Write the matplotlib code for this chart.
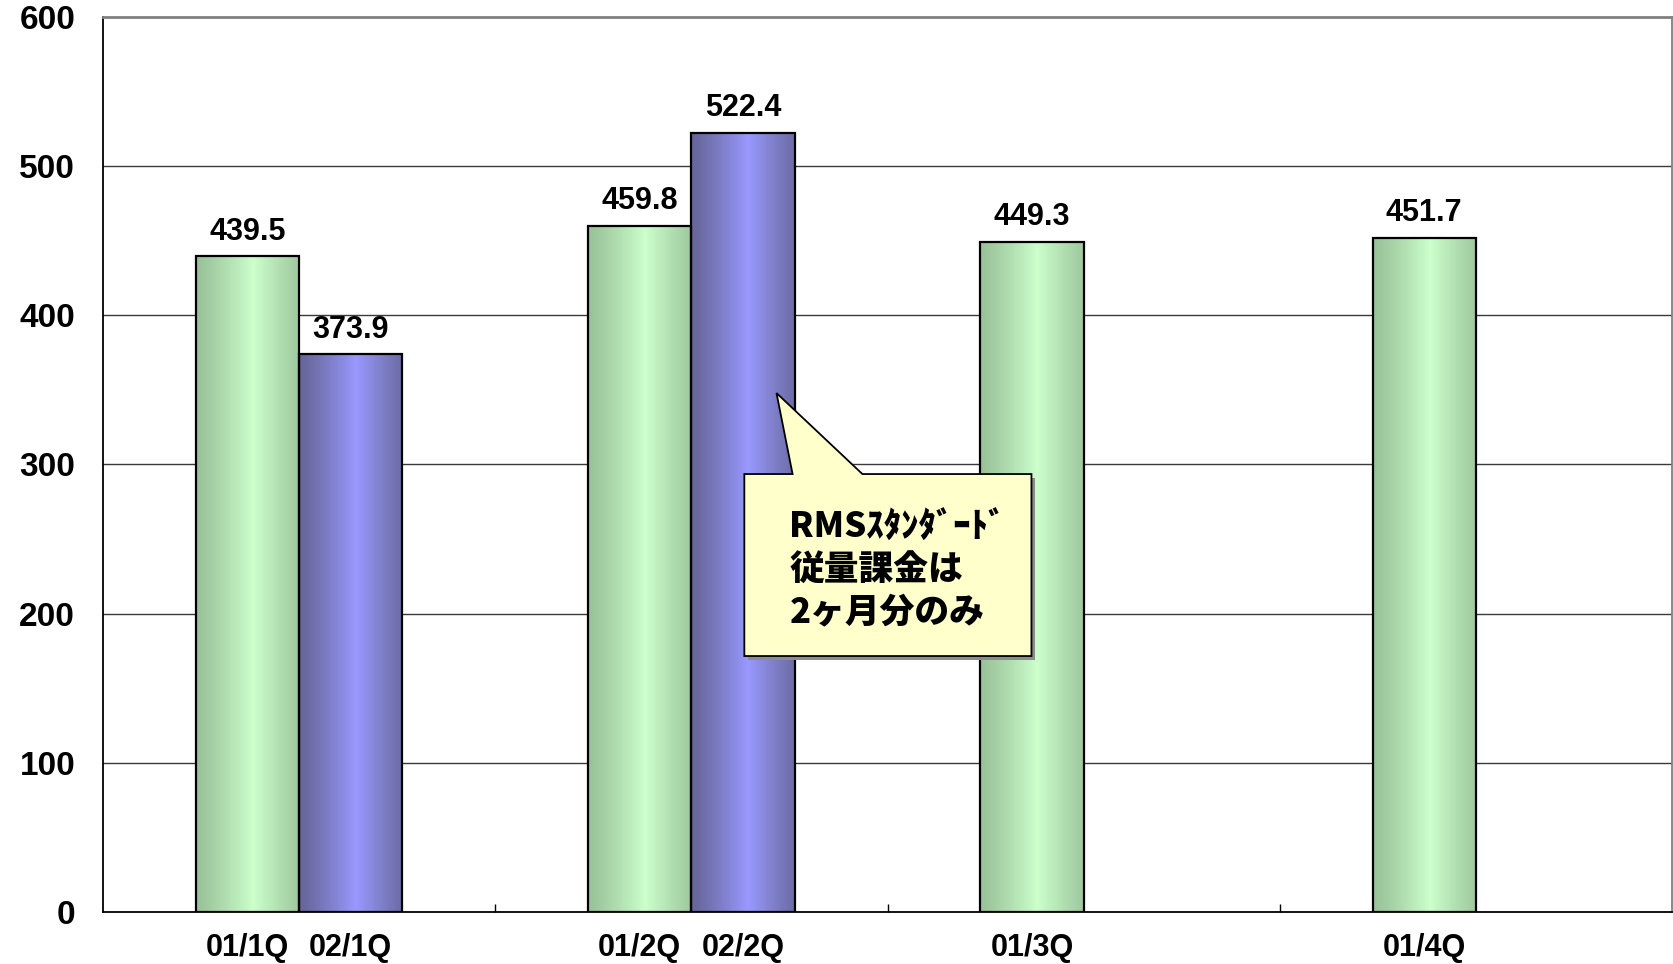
import matplotlib.pyplot as plt
import matplotlib.transforms as mtransforms
from matplotlib.patches import Polygon, Rectangle
import numpy as np

plt.rcParams['font.family'] = ['Liberation Sans', 'Noto Sans CJK JP', 'DejaVu Sans']

quarters = ["1Q", "2Q", "3Q", "4Q"]
labels_01 = ["01/1Q", "01/2Q", "01/3Q", "01/4Q"]
labels_02 = ["02/1Q", "02/2Q", "", ""]
values_01 = [439.5, 459.8, 449.3, 451.7]
values_02 = [373.9, 522.4, None, None]

note_text = "RMSｽﾀﾝﾀﾞｰﾄﾞ\n従量課金は\n2ヶ月分のみ"


def gradient_bar(ax, bar, edge_col, mid_col):
    # horizontal shading: darker at the sides, light just right of centre
    x0, y0 = bar.get_x(), bar.get_y()
    w, h = bar.get_width(), bar.get_height()
    t = np.linspace(0, 1, 256)
    k = np.clip(1 - np.abs(t - 0.55) / 0.55, 0, 1) ** 1.2
    e = np.array(edge_col)
    m = np.array(mid_col)
    rgb = e[None, :] * (1 - k[:, None]) + m[None, :] * k[:, None]
    img = rgb[None, :, :]
    im = ax.imshow(img, extent=(x0, x0 + w, y0, y0 + h), aspect='auto',
                   origin='lower', zorder=2, interpolation='bilinear')
    im.set_clip_path(bar)
    ax.add_patch(Rectangle((x0, y0), w, h, fill=False, edgecolor='black',
                           linewidth=1.6, zorder=3))


def value_label(ax, bar, v):
    ax.annotate(f"{v:.1f}", (bar.get_x() + bar.get_width() / 2, v),
                xytext=(0, 7), textcoords='offset points', ha='center',
                va='bottom', fontsize=22, fontweight='bold', zorder=5)


fig = plt.figure(figsize=(16.73, 9.64), dpi=100)
ax = fig.add_axes([103 / 1673, 52 / 964, 1569 / 1673, 895 / 964])

x = np.arange(len(quarters))
width = 0.263

green_edge = (0.60, 0.76, 0.60)
green_mid = (0.80, 1.00, 0.80)
blue_edge = (0.40, 0.40, 0.60)
blue_mid = (0.60, 0.60, 1.00)

bars_01 = ax.bar(x - width / 2, values_01, width, color='none', zorder=2)
for b, v in zip(bars_01, values_01):
    gradient_bar(ax, b, green_edge, green_mid)
    value_label(ax, b, v)

x2 = [xi + width / 2 for xi, v in zip(x, values_02) if v is not None]
v2 = [v for v in values_02 if v is not None]
bars_02 = ax.bar(x2, v2, width, color='none', zorder=2)
for b, v in zip(bars_02, v2):
    gradient_bar(ax, b, blue_edge, blue_mid)
    value_label(ax, b, v)

ax.set_xlim(-0.5, len(quarters) - 0.5)
ax.set_ylim(0, 600)
ax.set_yticks(np.arange(0, 601, 100))
ax.set_yticklabels([str(v) for v in range(0, 601, 100)], fontweight='bold')
ax.tick_params(axis='y', length=0, pad=20, labelsize=24)

# category labels under each bar, group separators as minor ticks
tick_pos = list(x - width / 2) + x2
tick_lab = labels_01 + [l for l in labels_02 if l]
ax.set_xticks(tick_pos)
ax.set_xticklabels(tick_lab, fontsize=22, fontweight='bold')
ax.tick_params(axis='x', which='major', length=0, pad=15)
ax.set_xticks(np.arange(0.5, len(quarters) - 0.5, 1), minor=True)
ax.tick_params(axis='x', which='minor', direction='in', length=6,
               width=1, color='black')

for yv in range(100, 600, 100):
    ax.axhline(yv, color='#3a3a3a', linewidth=1, zorder=1)

ax.spines['left'].set_color('black')
ax.spines['left'].set_linewidth(1.3)
ax.spines['bottom'].set_color('black')
ax.spines['bottom'].set_linewidth(1.3)
ax.spines['bottom'].set_zorder(4)
ax.spines['top'].set_color('#808080')
ax.spines['top'].set_linewidth(2)
ax.spines['right'].set_color('#808080')
ax.spines['right'].set_linewidth(1.3)

# callout box with pointer to the 02/2Q bar
bx0, bx1 = 1.135, 1.867
by0, by1 = 171.6, 293.6
tip = (1.217, 347.9)
pts = [(bx0, by1), (1.258, by1), tip, (1.436, by1), (bx1, by1),
       (bx1, by0), (bx0, by0)]
shadow_tr = ax.transData + mtransforms.ScaledTranslation(4 / 100, -4 / 100,
                                                         fig.dpi_scale_trans)
ax.add_patch(Polygon([(bx0, by1), (bx1, by1), (bx1, by0), (bx0, by0)],
                     closed=True, facecolor='#8c8c8c', edgecolor='none',
                     transform=shadow_tr, zorder=6))
ax.add_patch(Polygon(pts, closed=True, facecolor='#ffffcc',
                     edgecolor='black', linewidth=1.3, zorder=7))
ax.text(bx0 + 0.115, (by0 + by1) / 2 - 3, note_text, ha='left', va='center',
        fontsize=25, fontweight='heavy', linespacing=1.25, zorder=8,
        family=['Noto Sans CJK JP', 'DejaVu Sans'])

fig.savefig("out.png", dpi=100)
